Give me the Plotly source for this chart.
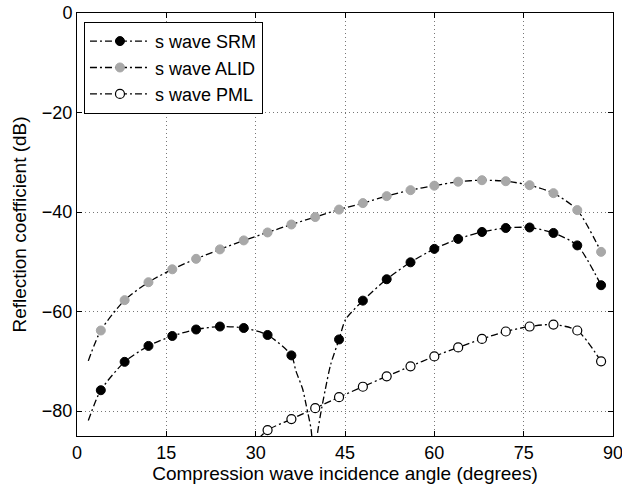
import plotly.graph_objects as go

# Marker samples (degrees, dB)
angles = [4, 8, 12, 16, 20, 24, 28, 32, 36, 40, 44, 48, 52, 56, 60, 64, 68, 72, 76, 80, 84, 88]

srm_angles = [4, 8, 12, 16, 20, 24, 28, 32, 36, 44, 48, 52, 56, 60, 64, 68, 72, 76, 80, 84, 88]
srm_db = [-75.8, -70.1, -66.9, -64.9, -63.6, -63.0, -63.3, -64.7, -68.8,
          -65.6, -57.8, -53.5, -50.1, -47.4, -45.4, -44.0, -43.2, -43.1, -44.2, -46.7, -54.7]

alid_db = [-63.8, -57.7, -54.1, -51.5, -49.4, -47.5, -45.7, -44.1, -42.5, -41.0, -39.5,
           -38.2, -36.8, -35.6, -34.7, -33.9, -33.6, -33.8, -34.6, -36.2, -39.6, -48.0]

pml_angles = [32, 36, 40, 44, 48, 52, 56, 60, 64, 68, 72, 76, 80, 84, 88]
pml_db = [-83.8, -81.6, -79.4, -77.2, -75.1, -73.0, -71.0, -69.0, -67.2, -65.5,
          -64.0, -63.0, -62.6, -63.8, -70.0]

# Curve traces (markers plus visible line ends / dip)
srm_line_x = [1.9, 4, 8, 12, 16, 20, 24, 28, 32, 36, 36.75, 37.9, 38.5, 39.3, 39.8,
              40.4, 40.9, 41.7, 42.6, 44, 45.1, 48, 52, 56, 60, 64, 68, 72, 76, 80, 84, 88]
srm_line_y = [-81.9, -75.8, -70.1, -66.9, -64.9, -63.6, -63.0, -63.3, -64.7, -68.8, -71.9,
              -75.6, -78.9, -83.6, -90.0, -84.3, -80.6, -75.6, -70.6, -65.6, -61.6, -57.8,
              -53.5, -50.1, -47.4, -45.4, -44.0, -43.2, -43.1, -44.2, -46.7, -54.7]

alid_line_x = [1.9] + angles
alid_line_y = [-69.9] + alid_db

pml_line_x = [30.5] + pml_angles
pml_line_y = [-85.5] + pml_db

names = ["s wave SRM", "s wave ALID", "s wave PML"]
x_ticks = [0, 15, 30, 45, 60, 75, 90]
y_ticks = [0, -20, -40, -60, -80]

DASH = "7px,3px,2px,3px"
GRAY = "#a8a8a8"

fig = go.Figure()

styles = [
    dict(color="black", line=dict(color="black", width=1)),
    dict(color=GRAY, line=dict(color=GRAY, width=1)),
    dict(color="white", line=dict(color="black", width=1.2)),
]

lines = [(srm_line_x, srm_line_y), (alid_line_x, alid_line_y), (pml_line_x, pml_line_y)]
marks = [(srm_angles, srm_db), (angles, alid_db), (pml_angles, pml_db)]

for (lx, ly) in lines:
    fig.add_trace(go.Scatter(x=lx, y=ly, mode="lines", showlegend=False, hoverinfo="skip",
                             line=dict(color="black", width=1.3, dash=DASH,
                                       shape="spline", smoothing=0.7)))

for (mx, my), st in zip(marks, styles):
    fig.add_trace(go.Scatter(x=mx, y=my, mode="markers", showlegend=False,
                             marker=dict(size=9, symbol="circle", **st)))

for name, st in zip(names, styles):
    fig.add_trace(go.Scatter(x=[None], y=[None], mode="lines+markers", name=name,
                             line=dict(color="black", width=1.3, dash=DASH),
                             marker=dict(size=9, symbol="circle", **st)))

axis_common = dict(
    showline=True, linecolor="black", linewidth=1, mirror="ticks",
    ticks="inside", ticklen=5, tickcolor="black",
    showgrid=True, gridcolor="#777777", gridwidth=1, griddash="1px,3px",
    zeroline=False, tickfont=dict(size=18, color="black"),
    automargin=False, ticklabeloverflow="allow",
)

fig.update_xaxes(range=[0, 90], tickvals=x_ticks,
                 title=dict(text="Compression wave incidence angle (degrees)",
                            font=dict(size=19, color="black"), standoff=2),
                 **axis_common)
fig.update_yaxes(range=[-85, 0], tickvals=y_ticks,
                 title=dict(text="Reflection coefficient (dB)",
                            font=dict(size=19, color="black"), standoff=10),
                 **axis_common)

fig.update_layout(
    width=622, height=491,
    margin=dict(l=77, r=9, t=13, b=55),
    paper_bgcolor="white", plot_bgcolor="white",
    font=dict(family="Liberation Sans, Arial, sans-serif", color="black"),
    legend=dict(x=0.013, y=0.979, xanchor="left", yanchor="top",
                bgcolor="white", bordercolor="black", borderwidth=1,
                font=dict(size=18, color="black"), tracegroupgap=0,
                itemwidth=60),
)

fig.write_html("out.html", config={"displayModeBar": False},
               post_script="document.body.style.margin='0';document.body.style.overflow='hidden';")
